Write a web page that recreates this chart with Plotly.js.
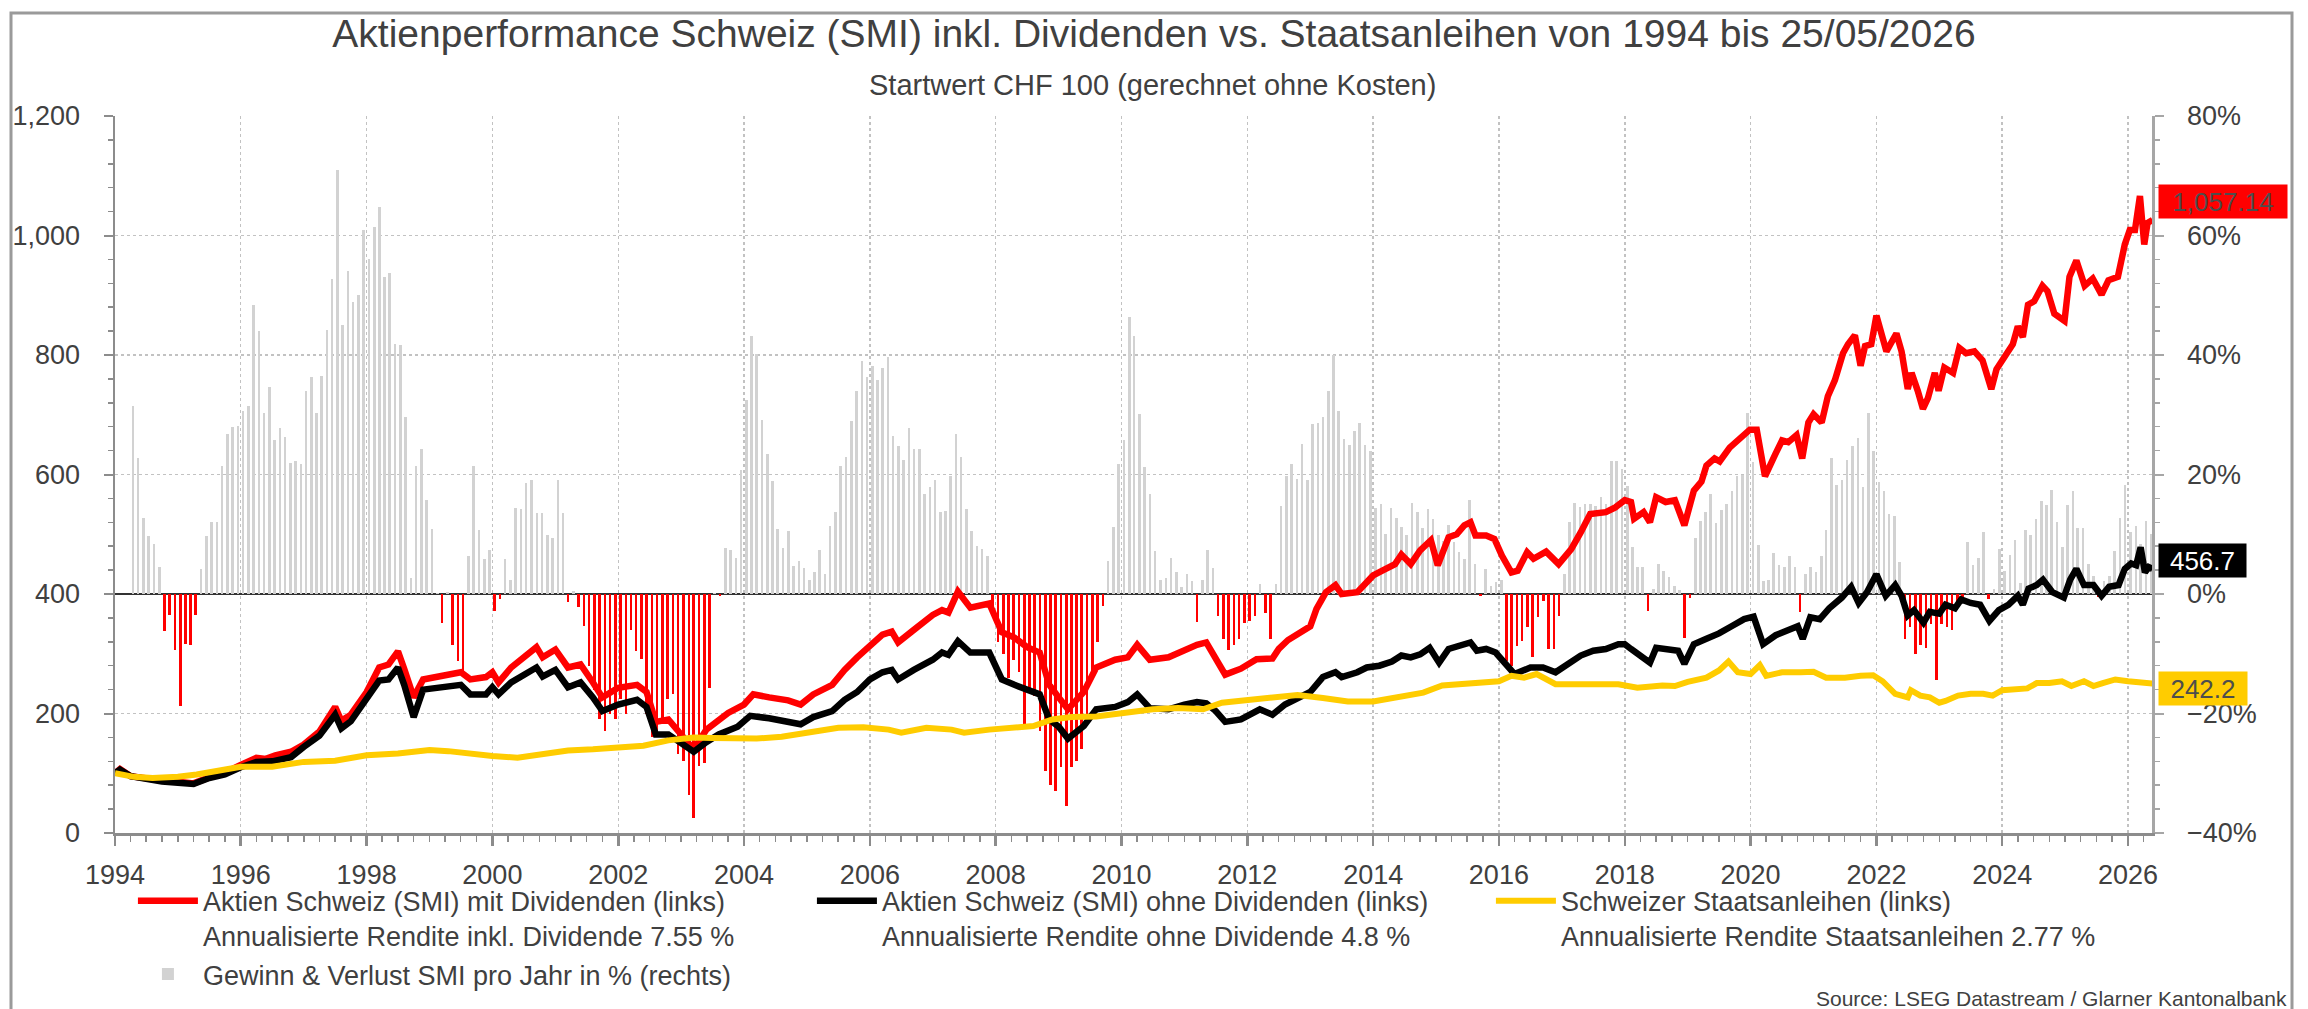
<!DOCTYPE html>
<html>
<head>
<meta charset="utf-8">
<script src="https://cdn.plot.ly/plotly-3.0.1.min.js"></script>
<style>html,body{margin:0;padding:0;background:#fff}#chart{width:2308px;height:1009px}</style>
</head>
<body>
<div id="chart"></div>
<script>
// ---------------- DATA ----------------
const titleText = 'Aktienperformance Schweiz (SMI) inkl. Dividenden vs. Staatsanleihen von 1994 bis 25/05/2026';
const subtitleText = 'Startwert CHF 100 (gerechnet ohne Kosten)';
const sourceText = 'Source: LSEG Datastream / Glarner Kantonalbank';

const seriesNames = [
  'Aktien Schweiz (SMI) mit Dividenden (links)<br>Annualisierte Rendite inkl. Dividende 7.55 %',
  'Aktien Schweiz (SMI) ohne Dividenden (links)<br>Annualisierte Rendite ohne Dividende 4.8 %',
  'Schweizer Staatsanleihen (links)<br>Annualisierte Rendite Staatsanleihen 2.77 %',
  'Gewinn & Verlust SMI pro Jahr in % (rechts)'
];
const endLabels = ['1,057.14', '456.7', '242.2'];
const endValues = [1057.14, 456.7, 242.2];

// first monthly bar: April 1994
const barStartYear = 1994, barStartMonth = 4;
// SMI gain/loss over 12 months in %, monthly, Apr 1994 .. May 2026
const smiYearlyPct = [
  31.5, 22.75, 12.8, 9.75, 8.3, 4.6, -6.25, -3.5, -9.3,
  -18.75, -8.3, -8.6, -3.5, 4.2, 9.75, 12, 12, 21.5, 26.8, 27.9, 28.2,
  30.7, 31.5, 48.3, 44, 30.25, 34.6, 25.8, 27.75, 26.25, 22, 22.25, 21.8,
  34, 36.25, 30.25, 36.5, 44.2, 52.7, 71, 45, 54, 48.9, 50, 61,
  56, 61.5, 64.8, 53, 53.75, 41.9, 41.7, 29.6, 2.75, 21.4, 24.2, 15.8,
  10.8, 0.2, -4.8, 0.3, -8.5, -11.25, -13.75, 6.4, 21.5, 10.75, 5.8, 7.3,
  -2.9, -0.8, 5.8, 2.4, 14.4, 14.2, 18.5, 19, 13.5, 13.5, 9.8, 9.4,
  19, 13.5, -1.4, 0.5, -2.1, -5.4, -12, -16, -21, -23, -20, -21,
  -17.5, -20, -6, -9.6, -10.8, -20, -24, -23, -21, -17.5, -16.7, -26.7,
  -28, -33.6, -37.5, -28.75, -28.3, -15.8, 0.2, -0.3, 7.7, 7.4, 6.1, 20.8,
  32.5, 43.2, 40.25, 29.2, 23.5, 18.9, 10.8, 7.7, 10.5, 4.75, 5.6, 4.4,
  2.3, 3.75, 7.3, 3.3, 11.4, 13.75, 21.5, 22.9, 28.9, 33.9, 39, 36.25,
  38.2, 35.8, 37.9, 39.6, 26.5, 24.75, 22.5, 27.7, 24.3, 24.2, 16.7, 17.9,
  19.1, 13.75, 13.9, 19.75, 26.75, 22.9, 14.3, 10.6, 8.1, 7.5, 6.4, -3,
  -8, -10, -14, -11, -13, -21.7, -16, -17, -23, -29.6, -32, -33,
  -29, -35.4, -29, -28, -26, -20, -13, -8, -2, 5.6, 11.25, 21.8,
  25.8, 46.4, 43.25, 30.2, 21.25, 16.8, 7.25, 2.3, 2.7, 6.1, 3.6, 1.25,
  3.3, 2.1, -4.75, 2.3, 7.3, 4.4, -3.75, -7.5, -9.3, -8.5, -7.5, -4.8,
  -4.6, -3.75, 1.7, -3.1, -7.5, 1.7, 14.8, 19.7, 21.8, 19.3, 25.1, 19,
  28.5, 28.6, 29.6, 33.9, 40, 30.6, 25.9, 24.9, 27.2, 28.6, 25, 24,
  14.4, 15.1, 10, 14.4, 12.8, 11.2, 9.8, 15.2, 13.7, 11, 14.2, 12.6,
  9.8, 8.9, 11.5, 8.7, 7, 5.9, 15.75, 5, -0.3, 4.2, 1.4, 2,
  2.3, -11.2, -12, -8.7, -7.8, -5.6, -10.6, -3.9, -1.1, -9.2, -9.2, -3.6,
  3.4, 12.1, 15.2, 14.6, 15.1, 15.1, 14.8, 16.2, 15.1, 22.2, 22.2, 21,
  18, 7.8, 4.5, 4.5, -2.8, 0.8, 5, 3.9, 2.8, 1.4, 0.6, -7.3,
  -0.6, 9.3, 12.2, 13.7, 16.7, 11.9, 14.1, 15, 17.2, 19.8, 20, 30.3,
  22.1, 8.2, 2.1, 2.4, 6.9, 4.8, 4.5, 6.3, 4.5, -3, 3.3, 4.5,
  3.6, 6.3, 10.7, 22.7, 18.2, 19.1, 22.4, 24.8, 26.1, 17.9, 30.3, 23.9,
  18.8, 17.3, 13.4, 13.1, 5.4, -7.5, -5.5, -10.1, -8.5, -9, -5, -14.4,
  -5, -5.5, -6, -2.4, -0.8, 8.7, 4.8, 6, 10.4, -0.9, 0.9, 7.5,
  3.9, 6.6, 9.1, 1.8, 10.7, 9.9, 12.5, 15.5, 14.9, 17.4, 12.1, 7.9,
  14.9, 17.3, 11, 11, 5.1, 3, -0.5, 2.1, 3, 7.2, 12.8, 18.2,
  10.4, 11.3, 8.4, 12.2, 10
];

// [decimal year, value CHF]
const smiWithDividends = [
  [1994.00,100],[1994.08,107],[1994.25,95],[1994.5,91],[1994.75,88],[1995.0,86],[1995.25,83],[1995.5,93],[1995.75,101],
  [1996.0,114],[1996.25,126],[1996.4,124],[1996.55,130],[1996.8,136],[1997.0,148],[1997.25,170],[1997.5,211],[1997.6,188],
  [1997.75,198],[1998.0,236],[1998.2,277],[1998.35,282],[1998.5,304],[1998.6,275],[1998.75,227],[1998.9,257],[1999.2,262],
  [1999.5,269],[1999.65,257],[1999.9,261],[2000.0,269],[2000.1,252],[2000.3,277],[2000.6,302],[2000.7,311],[2000.8,294],
  [2001.0,307],[2001.2,277],[2001.4,282],[2001.6,252],[2001.75,227],[2002.0,243],[2002.3,248],[2002.45,236],[2002.6,186],
  [2002.8,190],[2003.0,165],[2003.2,140],[2003.4,173],[2003.6,188],[2003.75,201],[2004.0,215],[2004.15,232],[2004.4,227],
  [2004.7,222],[2004.9,215],[2005.1,232],[2005.4,248],[2005.6,273],[2005.8,294],[2006.0,315],[2006.2,332],[2006.35,337],
  [2006.45,319],[2006.7,340],[2007.0,365],[2007.15,373],[2007.25,369],[2007.4,404],[2007.6,377],[2007.9,384],[2008.1,336],
  [2008.3,327],[2008.5,311],[2008.7,302],[2008.85,248],[2009.0,227],[2009.15,207],[2009.4,236],[2009.6,277],[2009.9,290],
  [2010.1,294],[2010.25,315],[2010.45,290],[2010.75,294],[2011.0,307],[2011.2,315],[2011.35,319],[2011.5,294],[2011.65,265],
  [2011.9,275],[2012.15,291],[2012.4,292],[2012.5,308],[2012.65,323],[2012.9,341],[2013.0,346],[2013.1,375],[2013.25,403],
  [2013.4,415],[2013.5,400],[2013.75,403],[2013.9,422],[2014.0,431],[2014.2,442],[2014.35,450],[2014.45,466],[2014.6,450],
  [2014.75,473],[2014.92,490],[2015.03,448],[2015.2,495],[2015.33,500],[2015.45,515],[2015.55,520],[2015.63,498],[2015.8,498],
  [2015.93,492],[2016.05,464],[2016.2,436],[2016.3,439],[2016.45,470],[2016.55,459],[2016.75,471],[2016.95,450],[2017.15,475],
  [2017.3,503],[2017.45,534],[2017.7,537],[2017.85,545],[2018.0,557],[2018.1,554],[2018.15,526],[2018.3,537],[2018.4,520],
  [2018.5,562],[2018.65,554],[2018.8,557],[2018.95,515],[2019.1,573],[2019.22,588],[2019.3,615],[2019.43,627],[2019.51,622],
  [2019.67,645],[2019.8,657],[2019.99,675],[2020.1,675],[2020.23,597],[2020.39,633],[2020.5,657],[2020.6,654],[2020.73,666],
  [2020.82,627],[2020.92,687],[2021.0,701],[2021.13,687],[2021.23,731],[2021.34,758],[2021.47,803],[2021.55,818],[2021.66,833],
  [2021.75,782],[2021.82,815],[2021.92,818],[2022.0,866],[2022.05,848],[2022.16,806],[2022.32,836],[2022.4,806],[2022.5,743],
  [2022.56,770],[2022.66,740],[2022.74,710],[2022.82,728],[2022.93,770],[2022.99,740],[2023.08,779],[2023.22,770],[2023.32,812],
  [2023.43,803],[2023.56,806],[2023.69,791],[2023.83,743],[2023.91,776],[2024.04,797],[2024.17,818],[2024.25,848],[2024.33,830],
  [2024.41,884],[2024.51,890],[2024.64,916],[2024.72,907],[2024.83,869],[2024.99,857],[2025.07,931],[2025.18,958],[2025.31,916],
  [2025.44,928],[2025.58,901],[2025.69,925],[2025.84,931],[2025.95,985],[2026.03,1009],[2026.11,1009],[2026.19,1066],
  [2026.26,985],[2026.31,1021],[2026.39,1026]
];

const smiWithoutDividends = [
  [1994.0,100],[1994.08,106],[1994.25,95],[1994.5,90],[1994.75,86],[1995.0,84],[1995.25,82],[1995.5,92],[1995.75,98],
  [1996.0,110],[1996.25,119],[1996.5,120],[1996.8,127],[1997.0,144],[1997.25,163],[1997.5,198],[1997.6,175],[1997.75,187],
  [1998.0,223],[1998.2,255],[1998.35,257],[1998.5,277],[1998.6,248],[1998.75,194],[1998.9,240],[1999.2,244],[1999.5,248],
  [1999.65,232],[1999.9,232],[2000.0,244],[2000.1,232],[2000.3,252],[2000.6,269],[2000.7,277],[2000.8,262],[2001.0,273],
  [2001.2,244],[2001.4,252],[2001.6,227],[2001.75,204],[2002.0,215],[2002.3,223],[2002.45,211],[2002.6,165],[2002.8,165],
  [2003.0,152],[2003.2,136],[2003.4,152],[2003.6,165],[2003.9,178],[2004.1,196],[2004.4,192],[2004.7,186],[2004.9,182],
  [2005.1,194],[2005.4,204],[2005.6,223],[2005.8,236],[2006.0,257],[2006.2,269],[2006.35,273],[2006.45,257],[2006.7,273],
  [2007.0,290],[2007.15,302],[2007.25,298],[2007.4,321],[2007.6,302],[2007.9,302],[2008.1,257],[2008.3,248],[2008.5,240],
  [2008.7,232],[2008.85,190],[2009.0,178],[2009.15,158],[2009.4,179],[2009.6,207],[2009.9,211],[2010.1,219],[2010.25,232],
  [2010.45,209],[2010.75,207],[2011.0,215],[2011.2,219],[2011.35,217],[2011.5,204],[2011.65,186],[2011.9,190],[2012.2,207],
  [2012.4,198],[2012.6,215],[2012.85,227],[2013.0,236],[2013.2,261],[2013.4,269],[2013.5,261],[2013.75,269],[2013.9,277],
  [2014.1,280],[2014.3,287],[2014.45,297],[2014.6,294],[2014.75,299],[2014.9,310],[2015.05,285],[2015.2,308],[2015.4,313],
  [2015.55,319],[2015.65,305],[2015.8,308],[2015.95,302],[2016.1,283],[2016.25,266],[2016.5,277],[2016.7,277],[2016.9,269],
  [2017.1,283],[2017.3,297],[2017.5,305],[2017.7,308],[2017.9,316],[2018.0,316],[2018.1,308],[2018.25,297],[2018.4,285],
  [2018.5,310],[2018.7,308],[2018.85,305],[2018.95,283],[2019.1,316],[2019.3,325],[2019.5,334],[2019.7,346],[2019.9,358],
  [2020.05,362],[2020.2,316],[2020.4,331],[2020.6,340],[2020.75,346],[2020.83,325],[2020.95,361],[2021.1,358],[2021.25,376],
  [2021.45,394],[2021.6,412],[2021.72,385],[2021.85,403],[2022.0,433],[2022.15,397],[2022.3,415],[2022.4,397],[2022.5,364],
  [2022.6,373],[2022.75,352],[2022.85,370],[2023.0,367],[2023.1,382],[2023.25,376],[2023.35,391],[2023.5,385],[2023.65,382],
  [2023.8,355],[2023.95,373],[2024.1,382],[2024.25,397],[2024.33,382],[2024.42,409],[2024.55,415],[2024.65,424],[2024.8,403],
  [2024.98,394],[2025.08,424],[2025.18,442],[2025.3,415],[2025.45,415],[2025.58,397],[2025.7,412],[2025.85,415],[2025.95,442],
  [2026.05,451],[2026.13,448],[2026.2,478],[2026.27,436],[2026.33,445],[2026.39,442]
];

const swissGovBonds = [
  [1994.0,100],[1994.3,94],[1994.6,92],[1995.0,94],[1995.3,98],[1995.7,106],[1996.0,111],[1996.5,111],[1997.0,119],
  [1997.5,121],[1998.0,130],[1998.5,133],[1999.0,139],[1999.3,137],[1999.7,132],[2000.0,129],[2000.4,126],[2000.8,132],
  [2001.2,138],[2001.6,140],[2002.0,144],[2002.4,146],[2002.8,155],[2003.2,160],[2003.5,159],[2003.9,157],[2004.2,158],
  [2004.6,161],[2005.0,168],[2005.5,176],[2005.9,177],[2006.3,173],[2006.5,168],[2006.9,176],[2007.3,173],[2007.5,168],
  [2007.9,173],[2008.3,176],[2008.6,179],[2008.9,190],[2009.2,194],[2009.6,195],[2010.0,201],[2010.5,207],[2010.9,209],
  [2011.3,207],[2011.6,218],[2012.0,222],[2012.5,229],[2012.8,231],[2013.2,226],[2013.6,220],[2014.0,220],[2014.4,228],
  [2014.8,235],[2015.1,247],[2015.5,249],[2015.9,252],[2016.0,254],[2016.2,263],[2016.4,260],[2016.6,266],[2016.75,257],
  [2016.9,249],[2017.2,249],[2017.5,249],[2017.9,249],[2018.2,243],[2018.6,247],[2018.8,246],[2019.0,253],[2019.3,260],
  [2019.5,272],[2019.65,287],[2019.8,269],[2020.0,266],[2020.15,281],[2020.25,263],[2020.5,269],[2020.8,269],[2021.0,270],
  [2021.2,260],[2021.5,260],[2021.75,263],[2021.95,264],[2022.1,254],[2022.3,233],[2022.5,227],[2022.55,239],[2022.7,230],
  [2022.85,227],[2023.0,218],[2023.1,221],[2023.3,230],[2023.5,233],[2023.7,233],[2023.85,230],[2024.0,239],[2024.2,240],
  [2024.4,242],[2024.55,251],[2024.75,251],[2024.95,254],[2025.1,246],[2025.3,254],[2025.45,246],[2025.6,251],[2025.8,257],
  [2026.0,254],[2026.2,252],[2026.39,250]
];

// ---------------- HELPERS ----------------
function yearToDate(y) {
  const yr = Math.floor(y);
  const a = Date.UTC(yr, 0, 1), b = Date.UTC(yr + 1, 0, 1);
  return new Date(a + (y - yr) * (b - a)).toISOString().slice(0, 10);
}
const barDates = smiYearlyPct.map((v, i) => {
  const m = barStartMonth - 1 + i;
  return new Date(Date.UTC(barStartYear + Math.floor(m / 12), m % 12, 15)).toISOString().slice(0, 10);
});

const FONT = 'Liberation Sans, Arial, Helvetica, sans-serif';
const TXT = '#404040';
const GRID = '#c2c2c2';
const AX = '#8c8c8c';
const RED = '#ff0000', BLACK = '#000000', GOLD = '#ffcc00', GRAYBAR = '#d2d2d2';

const traces = [
  {
    type: 'bar', name: seriesNames[3], x: barDates, y: smiYearlyPct,
    xaxis: 'x', yaxis: 'y', width: 15 * 86400000,
    marker: { color: smiYearlyPct.map(v => v >= 0 ? GRAYBAR : RED), line: { width: 0 } },
    legendrank: 4, hoverinfo: 'x+y'
  },
  {
    type: 'scatter', mode: 'lines', name: seriesNames[0],
    x: smiWithDividends.map(p => yearToDate(p[0])), y: smiWithDividends.map(p => p[1]),
    xaxis: 'x', yaxis: 'y2', line: { color: RED, width: 6.5 }, legendrank: 1
  },
  {
    type: 'scatter', mode: 'lines', name: seriesNames[1],
    x: smiWithoutDividends.map(p => yearToDate(p[0])), y: smiWithoutDividends.map(p => p[1]),
    xaxis: 'x', yaxis: 'y2', line: { color: BLACK, width: 6.5 }, legendrank: 2
  },
  {
    type: 'scatter', mode: 'lines', name: seriesNames[2],
    x: swissGovBonds.map(p => yearToDate(p[0])), y: swissGovBonds.map(p => p[1]),
    xaxis: 'x', yaxis: 'y2', line: { color: GOLD, width: 6 }, legendrank: 3
  }
];

const tickFont = { family: FONT, size: 27, color: TXT };

const layout = {
  width: 2308, height: 1009,
  paper_bgcolor: '#ffffff', plot_bgcolor: '#ffffff',
  margin: { l: 115, r: 156, t: 116, b: 176, autoexpand: false },
  font: { family: FONT, color: TXT },
  separators: '.,',
  showlegend: true,
  bargap: 0,
  title: {
    text: titleText, x: 0.5, xref: 'container', xanchor: 'center',
    y: 1 - 33 / 1009, yref: 'container', yanchor: 'middle',
    font: { family: FONT, size: 39, color: TXT }
  },
  xaxis: {
    type: 'date', range: ['1994-01-01', '2026-05-20'],
    tick0: '1994-01-01', dtick: 'M24', tickformat: '%Y',
    showgrid: true, gridcolor: GRID, griddash: 'dot', gridwidth: 1.5,
    showline: true, linecolor: AX, linewidth: 2.5,
    ticks: 'outside', ticklen: 10, tickwidth: 2.5, tickcolor: AX,
    minor: { dtick: 'M3', tick0: '1994-01-01', ticks: 'outside', ticklen: 6, tickwidth: 1.5, tickcolor: AX, showgrid: false },
    zeroline: false, tickfont: tickFont, ticklabelstandoff: 6, automargin: false, fixedrange: true
  },
  yaxis: {
    side: 'right', range: [-40, 80], tick0: 0, dtick: 20, ticksuffix: '%',
    showgrid: true, gridcolor: GRID, griddash: 'dot', gridwidth: 1.5,
    showline: true, linecolor: '#a6a6a6', linewidth: 2.5,
    ticks: 'outside', ticklen: 9, tickwidth: 2, tickcolor: '#a6a6a6',
    minor: { dtick: 4, ticks: 'outside', ticklen: 5, tickwidth: 1.5, tickcolor: '#a6a6a6', showgrid: false },
    zeroline: true, zerolinecolor: '#333333', zerolinewidth: 1.2,
    tickfont: tickFont, ticklabelstandoff: 18, automargin: false, fixedrange: true
  },
  yaxis2: {
    overlaying: 'y', side: 'left', range: [0, 1200], tick0: 0, dtick: 200, tickformat: ',d',
    showgrid: false, zeroline: false,
    showline: true, linecolor: AX, linewidth: 2.5,
    ticks: 'outside', ticklen: 9, tickwidth: 2, tickcolor: AX,
    minor: { dtick: 40, ticks: 'outside', ticklen: 5, tickwidth: 1.5, tickcolor: AX, showgrid: false },
    tickfont: tickFont, ticklabelstandoff: 18, automargin: false, fixedrange: true
  },
  legend: {
    orientation: 'h', x: 0.0088, xanchor: 'left', y: -0.061, yanchor: 'top',
    font: { family: FONT, size: 27, color: TXT },
    itemwidth: 60, entrywidth: 604, entrywidthmode: 'pixels',
    traceorder: 'normal', valign: 'top', bgcolor: 'rgba(0,0,0,0)', borderwidth: 0,
    itemclick: false, itemdoubleclick: false
  },
  shapes: [
    {
      type: 'rect', xref: 'paper', yref: 'paper',
      x0: (11 - 115) / 2037, x1: (2292 - 115) / 2037,
      y0: -(1030 - 833) / 717, y1: 1 + (116 - 13) / 717,
      line: { color: '#9a9a9a', width: 3 }, fillcolor: 'rgba(0,0,0,0)'
    }
  ],
  annotations: [
    {
      xref: 'paper', yref: 'paper', x: (1152 - 115) / 2037, y: 1 + (116 - 85) / 717,
      xanchor: 'center', yanchor: 'middle', showarrow: false,
      text: subtitleText, font: { family: FONT, size: 29, color: TXT }
    },
    {
      xref: 'paper', yref: 'paper', x: (2289 - 115) / 2037, y: -(998 - 833) / 717,
      xanchor: 'right', yanchor: 'middle', showarrow: false,
      text: sourceText, font: { family: FONT, size: 21, color: TXT }
    },
    {
      xref: 'paper', yref: 'y2', x: 1, y: endValues[0], xanchor: 'left', yanchor: 'middle', xshift: 6,
      showarrow: false, text: endLabels[0], bgcolor: RED, borderpad: 3, width: 122, height: 27, align: 'center',
      font: { family: FONT, size: 26, color: '#4d4d4d' }
    },
    {
      xref: 'paper', yref: 'y2', x: 1, y: endValues[1], xanchor: 'left', yanchor: 'middle', xshift: 6,
      showarrow: false, text: endLabels[1], bgcolor: BLACK, borderpad: 3, width: 81, height: 27, align: 'center',
      font: { family: FONT, size: 26, color: '#ffffff' }
    },
    {
      xref: 'paper', yref: 'y2', x: 1, y: endValues[2], xanchor: 'left', yanchor: 'middle', xshift: 6,
      showarrow: false, text: endLabels[2], bgcolor: GOLD, borderpad: 3, width: 82, height: 27, align: 'center',
      font: { family: FONT, size: 26, color: '#4d4d4d' }
    }
  ]
};

Plotly.newPlot('chart', traces, layout, { displayModeBar: false, staticPlot: true, responsive: false });
</script>
</body>
</html>
